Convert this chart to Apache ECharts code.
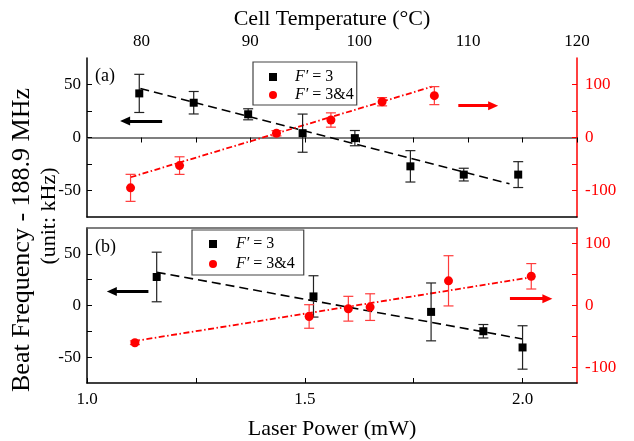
<!DOCTYPE html>
<html><head><meta charset="utf-8">
<script src="https://cdn.jsdelivr.net/npm/echarts@6/dist/echarts.min.js"></script>
<style>html,body{margin:0;padding:0;background:#fff}#c{width:634px;height:441px}</style>
</head><body><div id="c"></div>
<script>
// ---- tick values ----
const tempTicks = [80, 85, 90, 95, 100, 105, 110, 115, 120];
const tempLabels = [80, 90, 100, 110, 120];
const powerTicks = [1.0, 1.25, 1.5, 1.75, 2.0];
const powerLabels = [1.0, 1.5, 2.0];
const leftTicks = [-50, -25, 0, 25, 50];
const leftLabels = [-50, 0, 50];
const rightTicks = [-100, -50, 0, 50, 100];
const rightLabels = [-100, 0, 100];

// ---- panel (a): vs cell temperature ----
const tempA3 = [79.8, 84.8, 89.8, 94.8, 99.6, 104.7, 109.6, 114.6];
const valA3 = [41.6, 32.8, 21.9, 4.1, -0.6, -27.2, -35, -35];
const errA3 = [18, 10.6, 5.2, 18, 7.2, 14.8, 6, 12.2];
const tempA34 = [79.0, 83.5, 92.4, 97.4, 102.1, 106.9];
const valA34 = [-95, -53, 8, 33, 67.5, 79];
const errA34 = [25.5, 16.6, 5, 13.5, 7.8, 17];
const fitA3 = [[79.9, 46.3], [113.8, -43.7]];
const fitA34 = [[79.0, -75], [106.7, 96]];

// ---- panel (b): vs laser power ----
const powB3 = [1.16, 1.52, 1.79, 1.91, 2.0];
const valB3 = [27.6, 8.8, -6.2, -24.9, -40.6];
const errB3 = [24, 20, 28, 6.5, 21];
const powB34 = [1.11, 1.51, 1.60, 1.65, 1.83, 2.02];
const valB34 = [-60, -17.7, -5.2, -2.6, 39.8, 47.1];
const errB34 = [3, 19, 20, 21.5, 40.5, 20.5];
const fitB3 = [[1.16, 32.2], [2.0, -32.4]];
const fitB34 = [[1.108, -57.5], [2.015, 45]];

// arrows (data coordinates)
const arrowA3 = [[81.9, 15.6], [78.5, 15.6]];
const arrowA34 = [[109.1, 60], [112.3, 60]];
const arrowB3 = [[1.141, 13.5], [1.057, 13.5]];
const arrowB34 = [[1.971, 11], [2.057, 11]];

const FONT = "'Liberation Serif','Times New Roman',serif";
const RED = '#ff0000';

function pts(xs, ys) { return xs.map((x, i) => [x, ys[i]]); }
function errs(xs, ys, es) { return xs.map((x, i) => [x, ys[i] - es[i], ys[i] + es[i]]); }

function errSeries(data, xi, yi, color) {
  return {
    type: 'custom', xAxisIndex: xi, yAxisIndex: yi, data: data, z: 3, silent: true,
    renderItem: function (params, api) {
      const x = api.value(0), lo = api.value(1), hi = api.value(2);
      const a = api.coord([x, hi]), b = api.coord([x, lo]);
      const w = 5;
      const st = { stroke: color, lineWidth: 1.2 };
      return { type: 'group', children: [
        { type: 'line', shape: { x1: a[0], y1: a[1], x2: b[0], y2: b[1] }, style: st },
        { type: 'line', shape: { x1: a[0] - w, y1: a[1], x2: a[0] + w, y2: a[1] }, style: st },
        { type: 'line', shape: { x1: b[0] - w, y1: b[1], x2: b[0] + w, y2: b[1] }, style: st }
      ]};
    }
  };
}
function fitSeries(data, xi, yi, color, dash, width) {
  return { type: 'line', xAxisIndex: xi, yAxisIndex: yi, data: data, showSymbol: false, symbol: 'none',
    z: 2, silent: true, lineStyle: { color: color, width: width, type: dash } };
}
function arrowLine(a, color, width) {
  return { silent: true, symbol: ['none', 'triangle'], symbolSize: [9, 10], animation: false,
    label: { show: false }, lineStyle: { color: color, width: width, type: 'solid' },
    emphasis: { disabled: true },
    data: [[{ coord: a[0] }, { coord: a[1] }]] };
}
function scatterSeries(name, data, xi, yi, color, symbol, size, arrow) {
  return { name: name, type: 'scatter', xAxisIndex: xi, yAxisIndex: yi, data: data, symbol: symbol,
    symbolSize: size, z: 5, itemStyle: { color: color, opacity: 1 },
    markLine: arrowLine(arrow, color, 3) };
}

const tickStyle = { inside: true, length: 5, lineStyle: { color: '#000', width: 1 } };
function valAxis(extra) {
  return Object.assign({ type: 'value', splitLine: { show: false }, minorTick: { show: false } }, extra);
}
const labelStyle = { fontFamily: FONT, fontSize: 17, color: '#000' };

const legendTail = { a3: ' = 3', a34: ' = 3&4', b3: ' = 3', b34: ' = 3&4' };
function legendCfg(names, left, top, padding, spacer, lh) {
  return { data: names, orient: 'vertical', left: left, top: top, itemWidth: 8, itemHeight: 8,
    itemGap: 0, padding: padding, borderColor: '#444', borderWidth: 1.2, selectedMode: false,
    formatter: n => '{s| }{i|F′}' + legendTail[n],
    textStyle: { fontFamily: FONT, fontSize: 16, color: '#000', lineHeight: lh,
      rich: { s: { width: spacer, lineHeight: lh },
              i: { fontFamily: FONT, fontSize: 16, fontStyle: 'italic', lineHeight: lh } } } };
}

const option = {
  animation: false,
  backgroundColor: '#fff',
  grid: [
    { left: 87, top: 58, width: 490, height: 159 },
    { left: 87, top: 228, width: 490, height: 159 }
  ],
  xAxis: [
    valAxis({ gridIndex: 0, position: 'top', min: 75, max: 120,
      name: 'Cell Temperature (°C)', nameLocation: 'middle', nameGap: 28,
      nameTextStyle: { fontFamily: FONT, fontSize: 22, color: '#000' },
      axisLine: { show: true, lineStyle: { color: '#555', width: 1.5 } },
      axisTick: Object.assign({ customValues: tempTicks }, tickStyle),
      axisLabel: Object.assign({ customValues: tempLabels, margin: 8 }, labelStyle) }),
    valAxis({ gridIndex: 0, position: 'bottom', min: 75, max: 120,
      axisLine: { show: true, onZero: false, lineStyle: { color: '#000', width: 1.5 } },
      axisTick: { show: false }, axisLabel: { show: false } }),
    valAxis({ gridIndex: 1, position: 'bottom', min: 1.0, max: 2.125,
      name: 'Laser Power (mW)', nameLocation: 'middle', nameGap: 35,
      nameTextStyle: { fontFamily: FONT, fontSize: 22, color: '#000' },
      axisLine: { show: true, onZero: false, lineStyle: { color: '#000', width: 1.5 } },
      axisTick: Object.assign({ customValues: powerTicks }, tickStyle),
      axisLabel: Object.assign({ customValues: powerLabels, margin: 8,
        formatter: v => Number(v).toFixed(1) }, labelStyle) }),
    valAxis({ gridIndex: 1, position: 'top', min: 1.0, max: 2.125,
      axisLine: { show: true, onZero: false, lineStyle: { color: '#555', width: 1.5 } },
      axisTick: { show: false }, axisLabel: { show: false } })
  ],
  yAxis: [
    valAxis({ gridIndex: 0, position: 'left', min: -75, max: 75,
      axisLine: { show: true, onZero: false, lineStyle: { color: '#000', width: 1.5 } },
      axisTick: Object.assign({ customValues: leftTicks }, tickStyle),
      axisLabel: Object.assign({ customValues: leftLabels, margin: 6 }, labelStyle) }),
    valAxis({ gridIndex: 0, position: 'right', min: -150, max: 150,
      axisLine: { show: true, onZero: false, lineStyle: { color: RED, width: 1.5 } },
      axisTick: { customValues: rightTicks, inside: true, length: 5, lineStyle: { color: RED, width: 1 } },
      axisLabel: Object.assign({ customValues: rightLabels, margin: 8 }, labelStyle, { color: RED }) }),
    valAxis({ gridIndex: 1, position: 'left', min: -75, max: 75,
      axisLine: { show: true, onZero: false, lineStyle: { color: '#000', width: 1.5 } },
      axisTick: Object.assign({ customValues: leftTicks }, tickStyle),
      axisLabel: Object.assign({ customValues: leftLabels, margin: 6 }, labelStyle) }),
    valAxis({ gridIndex: 1, position: 'right', min: -125, max: 125,
      axisLine: { show: true, onZero: false, lineStyle: { color: RED, width: 1.5 } },
      axisTick: { customValues: rightTicks, inside: true, length: 5, lineStyle: { color: RED, width: 1 } },
      axisLabel: Object.assign({ customValues: rightLabels, margin: 8 }, labelStyle, { color: RED }) })
  ],
  legend: [
    legendCfg(['a3', 'a34'], 253, 62, [6, 3, 1, 16], 13, 18),
    legendCfg(['b3', 'b34'], 192, 230, [4, 9, 1, 17], 14, 20)
  ],
  graphic: [
    { type: 'text', left: 95, top: 67, style: { text: '(a)', font: '18px ' + FONT, fill: '#000' } },
    { type: 'text', left: 95, top: 238, style: { text: '(b)', font: '18px ' + FONT, fill: '#000' } },
    { type: 'text', x: 22, y: 240, rotation: Math.PI / 2,
      style: { text: 'Beat Frequency - 188.9 MHz', font: '26px ' + FONT, fill: '#000',
        align: 'center', verticalAlign: 'middle' } },
    { type: 'text', x: 49, y: 216, rotation: Math.PI / 2,
      style: { text: '(unit: kHz)', font: '22px ' + FONT, fill: '#000',
        align: 'center', verticalAlign: 'middle' } }
  ],
  series: [
    errSeries(errs(tempA3, valA3, errA3), 0, 0, '#222'),
    errSeries(errs(tempA34, valA34, errA34), 0, 1, '#ff3b3b'),
    fitSeries(fitA3, 0, 0, '#000', [9, 5], 1.6),
    fitSeries(fitA34, 0, 1, RED, [6, 2.5, 1.5, 2.5], 1.8),
    scatterSeries('a3', pts(tempA3, valA3), 0, 0, '#000', 'rect', 8, arrowA3),
    scatterSeries('a34', pts(tempA34, valA34), 0, 1, RED, 'circle', 9, arrowA34),

    errSeries(errs(powB3, valB3, errB3), 2, 2, '#222'),
    errSeries(errs(powB34, valB34, errB34), 2, 3, '#ff3b3b'),
    fitSeries(fitB3, 2, 2, '#000', [9, 5], 1.6),
    fitSeries(fitB34, 2, 3, RED, [6, 2.5, 1.5, 2.5], 1.8),
    scatterSeries('b3', pts(powB3, valB3), 2, 2, '#000', 'rect', 8, arrowB3),
    scatterSeries('b34', pts(powB34, valB34), 2, 3, RED, 'circle', 9, arrowB34)
  ]
};
const chart = echarts.init(document.getElementById('c'), null, { renderer: 'canvas' });
chart.setOption(option);
</script>
</body></html>
